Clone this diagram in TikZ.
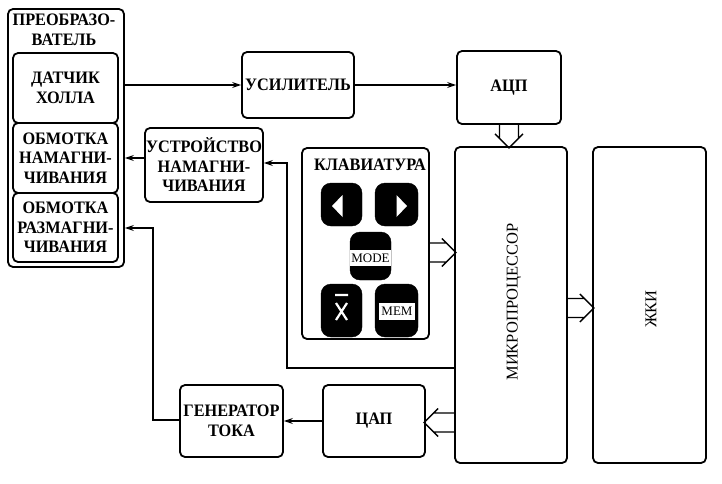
\documentclass[tikz,border=0pt]{standalone}
\usepackage{fontspec}
\setmainfont{Liberation Serif}[FakeStretch=0.93]
\newfontfamily\plainfont{Liberation Serif}
\usetikzlibrary{arrows.meta,calc}
\tikzset{
  blk/.style={draw, line width=1.8pt, rounded corners=5pt, inner sep=0pt, align=center,
    font=\bfseries\fontsize{17.5}{19.5}\selectfont},
  txt/.style={inner sep=0pt, align=center, font=\bfseries\fontsize{17.5}{19.5}\selectfont},
  vtxt/.style={inner sep=0pt, rotate=90, font=\plainfont\fontsize{16.5}{16.5}\selectfont},
  conn/.style={line width=1.8pt, -{Stealth[length=9pt,width=6pt]}},
  btn/.style={fill=black, draw=black, rounded corners=10pt, inner sep=0pt},
  lbl/.style={fill=white, inner sep=0pt, font=\plainfont\fontsize{13}{13}\selectfont},
  pics/harrow/.style={code={
    \draw[line width=1.3pt] (0,9.5) -- ({#1-9.5},9.5) (0,-9.5) -- ({#1-9.5},-9.5)
      ({#1-14},14) -- (#1,0) -- ({#1-14},-14);}}
}
\begin{document}
\begin{tikzpicture}[x=1pt,y=1pt]
\useasboundingbox (0,0) rectangle (722,-483);

% converter
\node[blk, minimum width=116pt, minimum height=258pt] (pre) at (66,-138) {};
\node[txt] (pretitle) at (64,-30) {ПРЕОБРАЗО-\\ВАТЕЛЬ};
\node[blk, minimum width=105pt, minimum height=70pt] (hall) at (65.5,-88) {ДАТЧИК\\ХОЛЛА};
\node[blk, minimum width=105pt, minimum height=70pt] (mag) at (65.5,-158) {ОБМОТКА\\НАМАГНИ-\\ЧИВАНИЯ};
\node[blk, minimum width=105pt, minimum height=69pt] (demag) at (65.5,-227.5) {ОБМОТКА\\РАЗМАГНИ-\\ЧИВАНИЯ};

% other blocks
\node[blk, minimum width=112pt, minimum height=66pt] (amp) at (298,-85) {УСИЛИТЕЛЬ};
\node[blk, minimum width=104pt, minimum height=73pt] (adc) at (509,-87.5) {АЦП};
\node[blk, minimum width=112pt, minimum height=316pt] (mp) at (511,-305) {};
\node[vtxt] (mptext) at (514,-302) {МИКРОПРОЦЕССОР};
\node[blk, minimum width=113pt, minimum height=316pt] (lcd) at (649.5,-305) {};
\node[vtxt] (lcdtext) at (651,-309) {ЖКИ};
\node[blk, minimum width=118pt, minimum height=74pt] (dev) at (204,-165) {УСТРОЙСТВО\\НАМАГНИ-\\ЧИВАНИЯ};
\node[blk, minimum width=103pt, minimum height=72pt] (gen) at (231.5,-421) {ГЕНЕРАТОР\\ТОКА};
\node[blk, minimum width=102pt, minimum height=72pt] (dac) at (374,-421) {ЦАП};

% keyboard
\node[blk, minimum width=127pt, minimum height=191pt] (kbd) at (365.5,-243.5) {};
\node[txt] (kbdtitle) at (370,-165) {КЛАВИАТУРА};
\node[btn, minimum width=41pt, minimum height=43pt] (bleft) at (341.5,-204.5) {};
\node[btn, minimum width=43pt, minimum height=43pt] (bright) at (396.5,-204.5) {};
\node[btn, minimum width=41pt, minimum height=48pt] (bmode) at (370.5,-256) {};
\node[btn, minimum width=41pt, minimum height=53pt] (bx) at (341.5,-310.5) {};
\node[btn, minimum width=43pt, minimum height=53pt] (bmem) at (396.5,-310.5) {};
\node[lbl, minimum width=41pt, minimum height=16pt] (lmode) at (370.5,-258) {MODE};
\node[lbl, minimum width=36pt, minimum height=17pt] (lmem) at (397,-311.5) {MEM};
\fill[white] (332,-206) -- (342.5,-195) -- (342.5,-217) -- cycle;
\fill[white] (407,-206) -- (396.5,-195) -- (396.5,-217) -- cycle;
\draw[white, line width=2.2pt] (335,-295) -- (348,-295)
  (336,-303) -- (347,-320) (347,-303) -- (336,-320);

% connectors
\draw[conn] (pre.east |- amp.west) -- (amp.west);
\draw[conn] (amp.east) -- (amp.east -| adc.west);
\draw[conn] (dev.west |- mag.east) -- (pre.east |- mag.east);
\coordinate (j1) at (287,-368);
\coordinate (j2) at (287,-163);
\draw[conn] (mp.west |- j1) -- (j1) -- (j2) -- (dev.east |- j2);
\draw[conn] (dac.west) -- (gen.east);
\coordinate (j3) at (153,-420);
\coordinate (j4) at (153,-228);
\draw[conn] (gen.west |- j3) -- (j3) -- (j4) -- (pre.east |- j4);

% bus arrows
\pic[rotate=-90] at (adc.south) {harrow=23};
\pic at ([yshift=-9pt]kbd.east) {harrow=26};
\pic at ([yshift=-3pt]mp.east) {harrow=26};
\pic[rotate=180] at ([yshift=-1.5pt]mp.west |- dac.east) {harrow=30};
\end{tikzpicture}
\end{document}
